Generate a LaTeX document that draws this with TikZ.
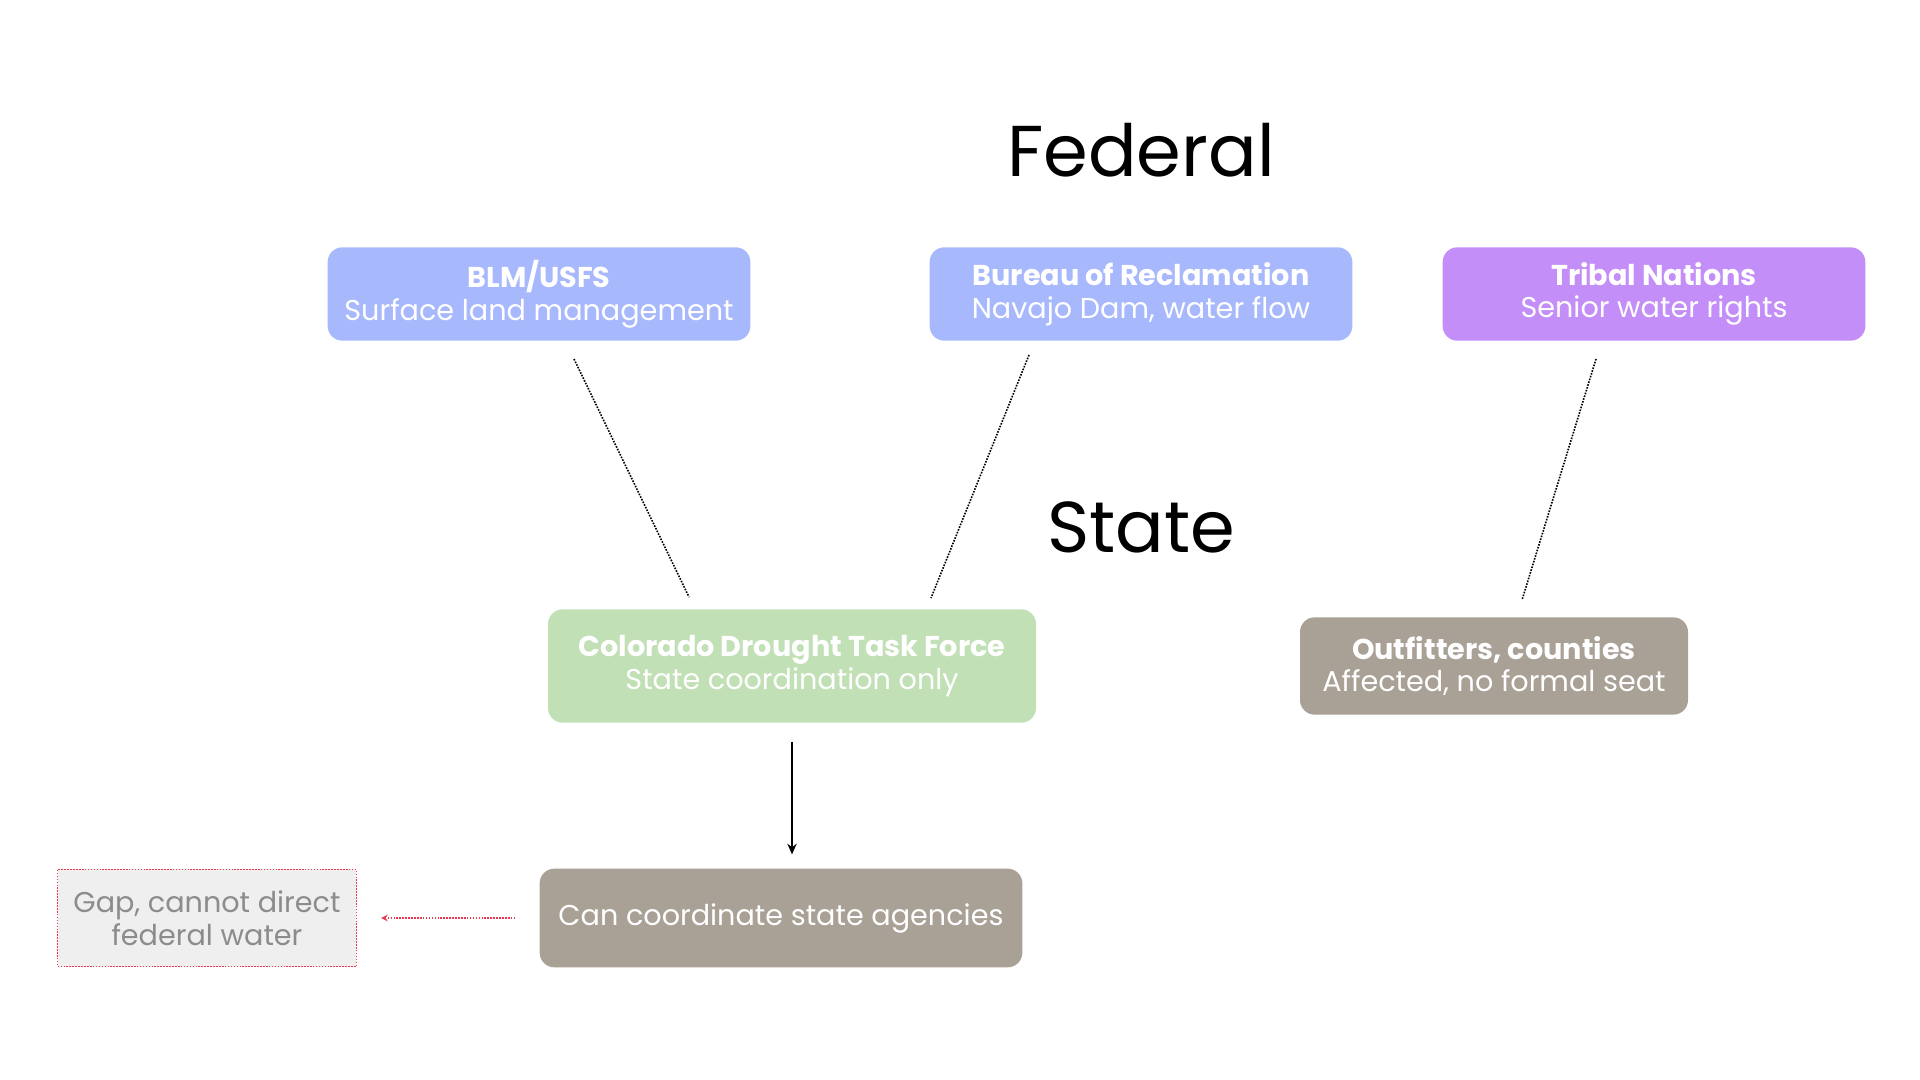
\documentclass[tikz,border=0pt]{standalone}
\usepackage{fontspec}
\setmainfont{Poppins}
\usetikzlibrary{arrows.meta}

\definecolor{fedblue}{HTML}{A8B8FC}
\definecolor{tribal}{HTML}{C38EF8}
\definecolor{stategreen}{HTML}{C2E0B6}
\definecolor{localgray}{HTML}{A9A096}
\definecolor{gapfill}{HTML}{EFEFEF}
\definecolor{gapred}{HTML}{E8384F}
\definecolor{gaptext}{HTML}{8C8C8C}

\begin{document}
\begin{tikzpicture}
  [x=0.75pt,y=-0.75pt,
   every node/.style={font=\fontsize{21.5}{24.5}\selectfont},
   card/.style={rounded corners=11pt,text=white,align=center,inner sep=0pt},
   fed/.style={card,fill=fedblue,minimum width=317pt,minimum height=70pt},
   title/.style={font=\fontsize{54}{56}\selectfont}]
  \useasboundingbox (0,0) rectangle (1920,1080);

  \node[title] (federal) at (1141,150) {Federal};
  \node[title] (state)   at (1141,527) {State};

  \node[fed] (blm)    at (539,294)  {\textbf{BLM/USFS}\\Surface land management};
  \node[fed] (bor)    at (1141,294) {\textbf{Bureau of Reclamation}\\Navajo Dam, water flow};
  \node[fed,fill=tribal] (tribes) at (1654,294) {\textbf{Tribal Nations}\\Senior water rights};

  \node[card,fill=stategreen,minimum width=366pt,minimum height=85pt] (cdtf) at (792,666)
    {\textbf{Colorado Drought Task Force}\\State coordination only};
  \node[card,fill=localgray,minimum width=291pt,minimum height=73pt] (locals) at (1494,666)
    {\textbf{Outfitters, counties}\\Affected, no formal seat};
  \node[card,fill=localgray,minimum width=362pt,minimum height=74pt] (coord) at (781,918)
    {Can coordinate state agencies};
  \node[draw=gapred,densely dotted,line width=1.2pt,fill=gapfill,text=gaptext,align=center,
        inner sep=0pt,minimum width=224pt,minimum height=73pt] (gap) at (207,918)
    {Gap, cannot direct\\federal water};

  % loose dotted links between the levels
  \coordinate (blm-s)    at (574,359);
  \coordinate (blm-e)    at (689,597);
  \coordinate (bor-s)    at (1029,355);
  \coordinate (bor-e)    at (931,598);
  \coordinate (tribes-s) at (1596,359);
  \coordinate (tribes-e) at (1522,600);
  \foreach \from/\to in {blm-s/blm-e,bor-s/bor-e,tribes-s/tribes-e}
    \draw[densely dotted,line width=1.2pt] (\from) -- (\to);

  \draw[-{Stealth[length=8pt,width=7pt]},line width=1.8pt]
    ([yshift=-14pt]cdtf.south) -- ([yshift=10.5pt]coord.north -| cdtf.south);
  \draw[-{Stealth[length=5pt,width=5pt,open]},densely dotted,gapred,line width=1.2pt]
    ([xshift=-18pt]coord.west) -- ([xshift=18pt]gap.east);
\end{tikzpicture}
\end{document}
